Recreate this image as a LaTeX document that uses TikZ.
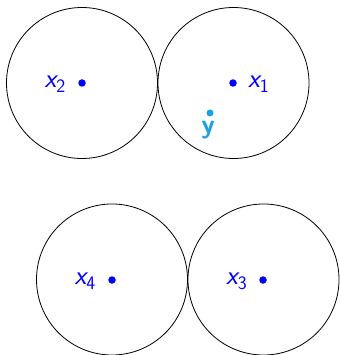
\documentclass[tikz,border=0pt]{standalone}
\definecolor{ycol}{RGB}{27,161,226}
\newcommand{\lbl}[2]{{\itshape #1}\raisebox{-5pt}{\fontsize{19}{22}\selectfont\upshape #2}}
\begin{document}
\begin{tikzpicture}[x=1pt,y=-1pt,
  ball/.style={draw=black,line width=0.8pt},
  pt/.style={circle,fill=blue,inner sep=0pt,minimum size=7.5pt},
  ypt/.style={circle,fill=ycol,inner sep=0pt,minimum size=7pt},
  lab/.style={text=blue,anchor=base,inner sep=0pt,font=\fontsize{27}{32}\selectfont\sffamily},
  ylab/.style={text=ycol,anchor=base,inner sep=0pt,font=\fontsize{27}{32}\selectfont\sffamily\bfseries}]
\useasboundingbox (0,0) rectangle (339,355);
\draw[ball] (82,83) circle (75.5);
\draw[ball] (233.5,83) circle (75.5);
\draw[ball] (112,279.5) circle (75.5);
\draw[ball] (263.5,279.5) circle (75.5);
\node[pt] (p2) at (82,83) {};
\node[pt] (p1) at (233,83) {};
\node[pt] (p4) at (112,280) {};
\node[pt] (p3) at (263,280) {};
\node[ypt] (py) at (210,113) {};
\node[lab] (l2) at (55,88) {\lbl{x}{2}};
\node[lab] (l1) at (258.5,88) {\lbl{x}{1}};
\node[lab] (l4) at (85,284) {\lbl{x}{4}};
\node[lab] (l3) at (236.5,284) {\lbl{x}{3}};
\node[ylab] (ly) at (208,134) {y};
\end{tikzpicture}
\end{document}
